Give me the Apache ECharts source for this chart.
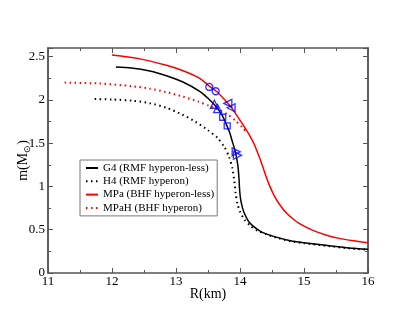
<!DOCTYPE html>
<html>
<head>
<meta charset="utf-8">
<script src="https://cdn.jsdelivr.net/npm/echarts@6/dist/echarts.min.js"></script>
<style>
html,body{margin:0;padding:0;background:#fff;}
#chart{width:415px;height:321px;}
</style>
</head>
<body>
<div id="chart"></div>
<script>
// ---- data (R in km, m in solar masses) ----
var seriesNames = ['G4 (RMF hyperon-less)', 'H4 (RMF hyperon)', 'MPa (BHF hyperon-less)', 'MPaH (BHF hyperon)'];
var g4 = [[12.06,2.38],[12.3,2.37],[12.59,2.335],[12.85,2.28],[13.1,2.21],[13.37,2.10],[13.5,2.02],[13.6,1.945],[13.65,1.90],[13.73,1.81],[13.79,1.71],[13.84,1.62],[13.88,1.52],[13.92,1.42],[13.95,1.32],[13.97,1.22],[13.985,1.08],[13.995,0.95],[14.01,0.85],[14.04,0.75],[14.08,0.67],[14.14,0.59],[14.25,0.515],[14.35,0.47],[14.54,0.42],[14.77,0.375],[15.0,0.35],[15.4,0.315],[15.7,0.29],[16.0,0.275]];
var h4 = [[11.73,2.01],[12.0,2.005],[12.33,1.99],[12.6,1.96],[12.85,1.91],[13.1,1.83],[13.3,1.75],[13.5,1.65],[13.65,1.56],[13.76,1.45],[13.83,1.34],[13.88,1.21],[13.91,1.07],[13.93,0.93],[13.96,0.8],[14.0,0.71],[14.07,0.615],[14.17,0.54],[14.27,0.49],[14.4,0.45],[14.54,0.415],[14.77,0.37],[15.0,0.345],[15.4,0.31],[15.7,0.285],[16.0,0.27]];
var mpa = [[12.0,2.52],[12.4,2.48],[12.85,2.40],[13.1,2.34],[13.37,2.25],[13.52,2.16],[13.63,2.10],[13.75,2.01],[13.86,1.92],[13.96,1.81],[14.05,1.71],[14.1,1.65],[14.15,1.59],[14.22,1.49],[14.28,1.38],[14.35,1.24],[14.41,1.11],[14.47,0.995],[14.54,0.885],[14.61,0.80],[14.72,0.695],[14.82,0.63],[14.93,0.57],[15.13,0.495],[15.34,0.44],[15.55,0.40],[15.8,0.37],[16.0,0.35]];
var mpah = [[11.26,2.20],[11.8,2.19],[12.3,2.16],[12.59,2.13],[12.85,2.09],[13.1,2.04],[13.35,1.98],[13.52,1.93],[13.7,1.875],[13.81,1.83],[13.93,1.76],[14.04,1.68],[14.1,1.63]];
// blue marker points
var circlePts = [[13.52,2.15],[13.62,2.10]];
var upTriPts = [[13.6,1.95],[13.65,1.90]];
var leftTriPts = [[13.81,1.96],[13.86,1.91]];
var squarePts = [[13.73,1.80],[13.80,1.70]];
var rightTriPts = [[13.94,1.40],[13.96,1.36]];
// axis ticks
var xTickLabels = ['11','12','13','14','15','16'];
var yTickLabels = ['0','0.5','1','1.5','2','2.5'];

var FONT = 'Liberation Serif';
var FRAME = '#555';
var GRID = {left: 48, right: 47, top: 48, bottom: 48};

function yAxisDef(gridIndex, pos, major, labels) {
  return {
    type: 'value', gridIndex: gridIndex, position: pos, min: 0, max: 2.6, interval: major ? 0.5 : 0.25,
    axisLine: {show: true, onZero: false, lineStyle: {color: FRAME, width: 1.5}},
    axisTick: {show: true, inside: true, length: major ? 5 : 3, lineStyle: {color: FRAME, width: 1}},
    axisLabel: {show: labels, inside: false, margin: 3, color: '#000', fontFamily: FONT, fontSize: 13,
      formatter: function (v) { var i = Math.round(v / 0.5); return (Math.abs(v - i * 0.5) < 1e-9 && i < yTickLabels.length) ? yTickLabels[i] : ''; }},
    splitLine: {show: false},
    name: labels ? '{n|m(M}{s|⊙}{n|)}' : '',
    nameLocation: 'middle', nameGap: 16, nameMoveOverlap: false,
    nameTextStyle: {rich: {n: {fontFamily: FONT, fontSize: 14, color: '#000'}, s: {fontFamily: FONT, fontSize: 9, color: '#000', verticalAlign: 'bottom', padding: [8, 0, 0, 0]}}}
  };
}
function xAxisDef(gridIndex, pos, labels, show) {
  return {
    type: 'value', gridIndex: gridIndex, position: pos, min: 11, max: 16, interval: 1, show: show,
    axisLine: {show: true, onZero: false, lineStyle: {color: FRAME, width: 1.5}},
    axisTick: {show: true, inside: true, length: 5, lineStyle: {color: FRAME, width: 1}},
    minorTick: {show: true, splitNumber: 2, length: 3, lineStyle: {color: FRAME, width: 1}},
    axisLabel: {show: labels, margin: 2, color: '#000', fontFamily: FONT, fontSize: 13,
      formatter: function (v) { var i = Math.round(v - 11); return xTickLabels[i] || ''; }},
    splitLine: {show: false},
    name: labels ? 'R(km)' : '', nameLocation: 'middle', nameGap: 14, nameMoveOverlap: false,
    nameTextStyle: {fontFamily: FONT, fontSize: 14, color: '#000'}
  };
}
function marker(data, sym, rot, size) {
  return {type: 'scatter', data: data, symbol: sym, symbolRotate: rot, symbolSize: size, z: 5,
    itemStyle: {color: 'rgba(0,0,0,0)', borderColor: '#0000ff', borderWidth: 1.3}};
}
function curve(name, data, color, dotted) {
  return {name: name, type: 'line', data: data, showSymbol: false, symbol: 'none',
    smooth: 0.25,
    lineStyle: {color: color, width: dotted ? 2 : 1.5, type: dotted ? [1.5, 3.5] : 'solid'},
    itemStyle: {color: color}};
}

var chart = echarts.init(document.getElementById('chart'), null, {renderer: 'canvas'});
chart.setOption({
  animation: false,
  backgroundColor: '#fff',
  grid: [GRID, GRID],
  xAxis: [xAxisDef(0, 'bottom', true, true), xAxisDef(0, 'top', false, true), xAxisDef(1, 'bottom', false, false)],
  yAxis: [yAxisDef(0, 'left', true, true), yAxisDef(0, 'right', true, false), yAxisDef(1, 'left', false, false), yAxisDef(1, 'right', false, false)],
  legend: {
    data: seriesNames, orient: 'vertical', left: 80, top: 160,
    backgroundColor: '#fff', borderColor: '#777', borderWidth: 1,
    padding: [2, 3, 2, 5], itemGap: 1.3, itemWidth: 12, itemHeight: 8,
    itemStyle: {color: 'rgba(0,0,0,0)', borderWidth: 0, opacity: 0},
    textStyle: {fontFamily: FONT, fontSize: 11, color: '#000', lineHeight: 12}
  },
  series: [
    curve(seriesNames[0], g4, '#000', false),
    curve(seriesNames[1], h4, '#000', true),
    curve(seriesNames[2], mpa, '#ff0000', false),
    curve(seriesNames[3], mpah, '#ff0000', true),
    marker(circlePts, 'circle', 0, 7),
    marker(upTriPts, 'triangle', 0, 8),
    marker(leftTriPts, 'triangle', 90, 8),
    marker(squarePts, 'rect', 0, 6),
    marker(rightTriPts, 'triangle', -90, 8)
  ]
});
</script>
</body>
</html>
